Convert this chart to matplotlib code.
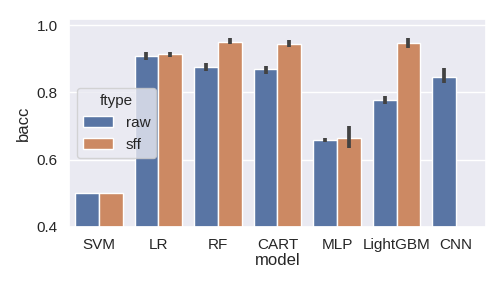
import matplotlib
matplotlib.use("Agg")
import matplotlib.pyplot as plt
import numpy as np
import seaborn as sns

models = ["SVM", "LR", "RF", "CART", "MLP", "LightGBM", "CNN"]
ftypes = ["raw", "sff"]

# mean bacc per model (nan = no bar)
raw_mean = [0.500, 0.909, 0.874, 0.868, 0.657, 0.777, 0.847]
sff_mean = [0.500, 0.913, 0.951, 0.943, 0.664, 0.946, np.nan]
# confidence interval bounds
raw_lo = [0.500, 0.896, 0.862, 0.855, 0.652, 0.766, 0.827]
raw_hi = [0.500, 0.919, 0.887, 0.879, 0.664, 0.789, 0.872]
sff_lo = [0.500, 0.906, 0.943, 0.936, 0.635, 0.933, np.nan]
sff_hi = [0.500, 0.921, 0.963, 0.955, 0.701, 0.961, np.nan]

sns.set_theme(style="darkgrid")
plt.rcParams["font.family"] = ["Liberation Sans", "DejaVu Sans"]

fig = plt.figure(figsize=(5.04, 2.88), dpi=100)
ax = fig.add_axes([0.137, 0.212, 0.827, 0.722])

colors = [sns.desaturate(c, 0.75) for c in sns.color_palette("deep")[:2]]
x = np.arange(len(models))
w = 0.4
series = [(raw_mean, raw_lo, raw_hi), (sff_mean, sff_lo, sff_hi)]
for i, (mean, lo, hi) in enumerate(series):
    xs = x - 0.2 + i * w
    mean = np.array(mean, dtype=float)
    ok = ~np.isnan(mean)
    ax.bar(xs[ok], mean[ok] - 0.4, bottom=0.4, width=w, color=colors[i],
           edgecolor="white", linewidth=1, label=ftypes[i], zorder=2)
    lo = np.array(lo, dtype=float)
    hi = np.array(hi, dtype=float)
    ax.vlines(xs[ok], lo[ok], hi[ok], color=".26", linewidth=2.7, zorder=3)

ax.set_xlim(-0.5, len(models) - 0.5)
ax.set_ylim(0.4, 1.018)
ax.set_yticks([0.4, 0.6, 0.8, 1.0])
ax.set_xticks(x)
ax.set_xticklabels(models)
ax.tick_params(labelsize=11, pad=2)
ax.set_xlabel("model", fontsize=12, labelpad=1)
ax.set_ylabel("bacc", fontsize=12)
ax.grid(axis="x", visible=False)

leg = ax.legend(title="ftype", loc="center left", fontsize=11, title_fontsize=11)

plt.savefig("out.png", dpi=100)
plt.close()
